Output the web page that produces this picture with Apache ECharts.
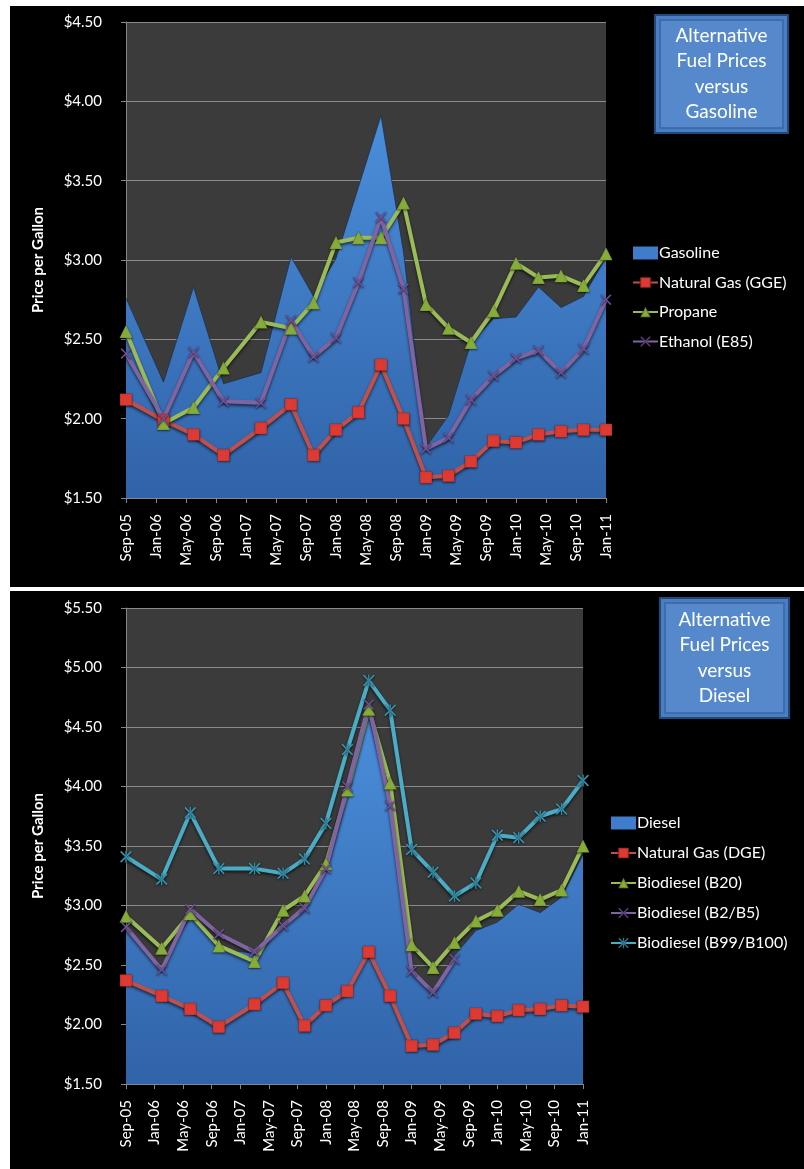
<!DOCTYPE html>
<html>
<head>
<meta charset="utf-8">
<script src="https://cdn.jsdelivr.net/npm/echarts@6/dist/echarts.min.js"></script>
<style>
  html, body { margin: 0; padding: 0; background: #fff; }
  .panel { position: absolute; left: 10px; width: 794px; background: #000; }
  #chartTop { top: 6px; height: 581px; }
  #chartBottom { top: 591px; height: 578px; }
</style>
</head>
<body>
<div id="chartTop" class="panel"></div>
<div id="chartBottom" class="panel"></div>
<script>
// survey dates (year-month) and the axis tick labels
var sampleDates = ['2005-09', '2006-02', '2006-06', '2006-10', '2007-03', '2007-07', '2007-10',
    '2008-01', '2008-04', '2008-07', '2008-10', '2009-01', '2009-04', '2009-07', '2009-10',
    '2010-01', '2010-04', '2010-07', '2010-10', '2011-01'];
var tickLabels = ['Sep-05', 'Jan-06', 'May-06', 'Sep-06', 'Jan-07', 'May-07', 'Sep-07', 'Jan-08',
    'May-08', 'Sep-08', 'Jan-09', 'May-09', 'Sep-09', 'Jan-10', 'May-10', 'Sep-10', 'Jan-11'];

// top chart: prices per gallon
var gasoline = [2.76, 2.23, 2.83, 2.22, 2.29, 3.02, 2.77, 3.01, 3.46, 3.91, 3.05, 1.82, 2.02, 2.48, 2.63, 2.64, 2.83, 2.70, 2.77, 3.02];
var naturalGasGGE = [2.12, 1.99, 1.90, 1.77, 1.94, 2.09, 1.77, 1.93, 2.04, 2.34, 2.00, 1.63, 1.64, 1.73, 1.86, 1.85, 1.90, 1.92, 1.93, 1.93];
var propane = [2.55, 1.97, 2.07, 2.32, 2.61, 2.57, 2.73, 3.11, 3.14, 3.14, 3.36, 2.72, 2.57, 2.48, 2.68, 2.98, 2.89, 2.90, 2.84, 3.04];
var ethanol = [2.41, 2.00, 2.42, 2.11, 2.10, 2.62, 2.39, 2.51, 2.86, 3.27, 2.82, 1.81, 1.88, 2.12, 2.27, 2.38, 2.43, 2.29, 2.44, 2.75];

// bottom chart
var diesel = [2.80, 2.47, 2.92, 2.63, 2.60, 2.84, 2.97, 3.30, 3.95, 4.62, 3.81, 2.46, 2.29, 2.58, 2.79, 2.86, 3.01, 2.94, 3.07, 3.43];
var naturalGasDGE = [2.37, 2.24, 2.13, 1.98, 2.17, 2.35, 1.99, 2.16, 2.28, 2.61, 2.24, 1.82, 1.83, 1.93, 2.09, 2.07, 2.12, 2.13, 2.16, 2.15];
var biodieselB20 = [2.91, 2.64, 2.93, 2.66, 2.53, 2.96, 3.08, 3.35, 3.97, 4.65, 4.03, 2.67, 2.48, 2.69, 2.87, 2.96, 3.12, 3.05, 3.13, 3.50];
var biodieselB2B5 = [2.82, 2.46, 2.97, 2.76, 2.61, 2.83, 2.98, 3.31, 4.00, 4.69, 3.84, 2.45, 2.27, 2.55, null, null, null, null, null, null];
var biodieselB100 = [3.41, 3.22, 3.78, 3.31, 3.31, 3.27, 3.39, 3.69, 4.31, 4.89, 4.64, 3.47, 3.28, 3.08, 3.19, 3.59, 3.57, 3.75, 3.81, 4.05];

var FONT = 'Lato';
var xMark = 'path://M1,0 L5,4 L9,0 L10,1 L6,5 L10,9 L9,10 L5,6 L1,10 L0,9 L4,5 L0,1 Z';
var starMark = xMark + ' M4.4,0 L5.6,0 L5.6,10 L4.4,10 Z';

// months since Sep-05
function monthIndex(d) {
    var p = d.split('-');
    return (parseInt(p[0], 10) - 2005) * 12 + parseInt(p[1], 10) - 9;
}
function pairs(values) {
    return values.map(function (v, i) { return [monthIndex(sampleDates[i]), v]; });
}

function areaSeries(name, values) {
    return {
        name: name,
        type: 'line',
        data: pairs(values),
        symbol: 'none',
        lineStyle: { width: 1, color: 'rgba(20,45,80,0.7)' },
        areaStyle: {
            origin: 'start',
            opacity: 1,
            color: new echarts.graphic.LinearGradient(0, 0, 0, 1, [
                { offset: 0, color: '#4b8edb' },
                { offset: 1, color: '#3063a8' }
            ])
        },
        itemStyle: { color: '#3f7ccc' },
        z: 1
    };
}

function lineSeries(name, values, color, markColor, symbol, size) {
    return {
        name: name,
        type: 'line',
        data: pairs(values),
        symbol: symbol,
        symbolSize: size,
        showAllSymbol: true,
        lineStyle: {
            width: 4, color: color,
            shadowColor: 'rgba(0,0,0,0.6)', shadowBlur: 3, shadowOffsetY: 2
        },
        itemStyle: {
            color: markColor,
            borderColor: 'rgba(0,0,0,0.25)',
            borderWidth: 0.5,
            shadowColor: 'rgba(0,0,0,0.5)', shadowBlur: 2, shadowOffsetY: 1
        },
        z: 3
    };
}

function titleBox(x, y, w, h, text) {
    return {
        type: 'group',
        children: [
            { type: 'rect', shape: { x: x, y: y, width: w, height: h },
              style: { fill: '#4a7ec2', stroke: '#22497c', lineWidth: 2 } },
            { type: 'rect', shape: { x: x + 5, y: y + 5, width: w - 10, height: h - 10 },
              style: { fill: '#5589cc', stroke: '#3a66a2', lineWidth: 1.5 } },
            { type: 'text', x: x + w / 2, y: y + h / 2,
              style: { text: text, fill: '#fff', font: '19px ' + FONT,
                       align: 'center', verticalAlign: 'middle', lineHeight: 25.5 } }
        ]
    };
}

function buildOption(cfg) {
    return {
        backgroundColor: '#000',
        animation: false,
        grid: {
            left: cfg.left, top: cfg.top, width: cfg.width, height: 476,
            show: true, backgroundColor: '#3b3b3b', borderWidth: 0
        },
        xAxis: {
            type: 'value', min: 0, max: 64, interval: 4,
            axisLine: { lineStyle: { color: '#868686', width: 1 } },
            axisTick: { show: true, length: 5, lineStyle: { color: '#868686' } },
            splitLine: { show: false },
            axisLabel: {
                rotate: 90, margin: 16, color: '#fff', fontSize: 15, fontFamily: FONT,
                formatter: function (v) { return tickLabels[Math.round(v / 4)]; }
            }
        },
        yAxis: {
            type: 'value', min: 1.5, max: cfg.yMax, interval: 0.5,
            name: 'Price per Gallon', nameLocation: 'middle', nameGap: 80,
            nameTextStyle: { color: '#fff', fontSize: 15, fontWeight: 'bold', fontFamily: FONT },
            axisLine: { show: true, lineStyle: { color: '#868686', width: 1 } },
            axisTick: { show: true, length: 5, lineStyle: { color: '#868686' } },
            splitLine: { lineStyle: { color: '#8a8a8a', width: 1 } },
            axisLabel: {
                margin: 24, color: '#fff', fontSize: 15, fontFamily: FONT,
                formatter: function (v) { return '$' + v.toFixed(2); }
            }
        },
        legend: {
            orient: 'vertical', left: cfg.legendLeft, top: cfg.legendTop,
            itemWidth: 25, itemHeight: 13, itemGap: cfg.legendGap,
            textStyle: { color: '#fff', fontSize: 16, fontFamily: FONT, lineHeight: 18, padding: [0, 0, 0, -4] },
            data: cfg.legendData
        },
        graphic: [cfg.box],
        series: cfg.series
    };
}

var topChart = echarts.init(document.getElementById('chartTop'));
topChart.setOption(buildOption({
    left: 116, top: 16, width: 480, yMax: 4.5,
    legendLeft: 617, legendTop: 233, legendGap: 11.5,
    legendData: [{ name: 'Gasoline', icon: 'rect' }, 'Natural Gas (GGE)', 'Propane', 'Ethanol (E85)'],
    box: titleBox(645, 9, 133, 118, 'Alternative\nFuel Prices\nversus\nGasoline'),
    series: [
        areaSeries('Gasoline', gasoline),
        lineSeries('Natural Gas (GGE)', naturalGasGGE, '#c0504d', '#dc3a32', 'rect', 12),
        lineSeries('Propane', propane, '#9bbb59', '#86ad39', 'triangle', 13),
        lineSeries('Ethanol (E85)', ethanol, '#8064a2', '#7656a0', xMark, 11)
    ]
}));

var bottomChart = echarts.init(document.getElementById('chartBottom'));
bottomChart.setOption(buildOption({
    left: 116, top: 17, width: 457, yMax: 5.5,
    legendLeft: 595, legendTop: 218, legendGap: 12,
    legendData: [{ name: 'Diesel', icon: 'rect' }, 'Natural Gas (DGE)', 'Biodiesel (B20)', 'Biodiesel (B2/B5)', 'Biodiesel (B99/B100)'],
    box: titleBox(650, 7, 129, 120, 'Alternative\nFuel Prices\nversus\nDiesel'),
    series: [
        areaSeries('Diesel', diesel),
        lineSeries('Natural Gas (DGE)', naturalGasDGE, '#c0504d', '#dc3a32', 'rect', 12),
        lineSeries('Biodiesel (B20)', biodieselB20, '#9bbb59', '#86ad39', 'triangle', 13),
        lineSeries('Biodiesel (B2/B5)', biodieselB2B5, '#8064a2', '#7656a0', xMark, 11),
        lineSeries('Biodiesel (B99/B100)', biodieselB100, '#4bacc6', '#3b9cb8', starMark, 12)
    ]
}));

window.addEventListener('resize', function () {
    topChart.resize();
    bottomChart.resize();
});
</script>
</body>
</html>
